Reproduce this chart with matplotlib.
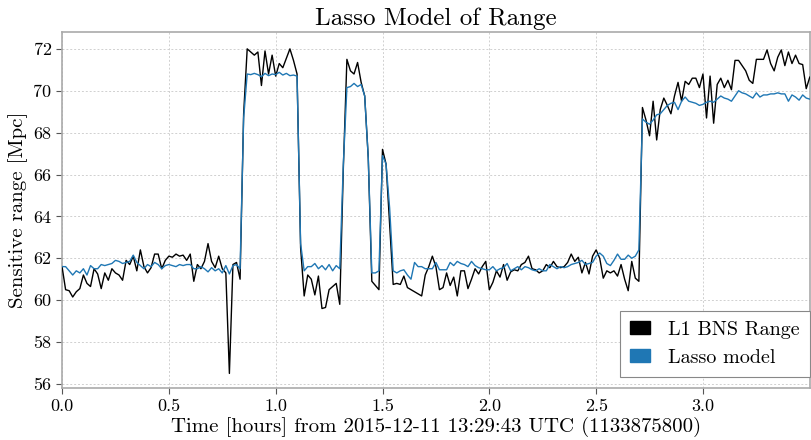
import numpy as np
import matplotlib
matplotlib.use("Agg")
import matplotlib.pyplot as plt
from matplotlib.patches import Patch

# ---- data (1-minute samples, time in hours) ----
range_l1 = (
    [61.6, 60.5, 60.45, 60.15, 60.4, 60.55, 61.2, 60.8, 60.65, 61.5, 61.25, 60.55, 61.3, 60.95, 61.5, 61.3, 61.2, 60.95,
     61.9, 61.7, 62.1, 61.4, 62.4, 61.6, 61.3, 61.55, 62.2, 62.2, 61.5, 61.9, 62.1, 62.05, 62.2, 62.1, 62.15, 61.9]
    + [62.2, 60.9, 61.7, 61.5, 61.85, 62.7, 61.85, 61.55, 62.1, 61.5, 61.3, 56.5, 61.7, 61.8, 61.0, 68.9, 72.0, 71.85,
       71.7, 71.85, 70.25, 71.9, 70.8, 71.7, 70.7, 71.3, 71.1, 71.55, 72.0, 71.45, 70.8, 62.5, 60.2, 61.2, 61.0]
    + [60.25, 61.15, 59.6, 59.65, 60.5, 60.65, 60.8, 59.8, 66.3, 71.5, 70.95, 70.8, 71.35, 70.4, 69.75, 66.8, 60.9,
       60.7, 60.5, 67.2, 66.5, 63.6, 60.75, 60.8, 60.75, 61.15, 60.6, 60.5, 60.4, 60.3, 60.2, 61.2, 61.6, 62.1]
    + [61.6, 60.5, 60.6, 61.3, 60.7, 61.1, 60.2, 61.4, 61.4, 60.55, 61.0, 61.5, 61.25, 61.6, 61.85, 60.5, 60.85, 61.4,
       61.1, 61.7, 60.95, 61.35, 61.45, 61.4, 61.7, 61.8, 62.1, 61.5, 61.45, 61.3, 61.4, 61.7, 61.55, 61.85, 61.6]
    + [61.55, 61.6, 61.8, 62.2, 61.85, 62.05, 61.3, 61.8, 61.25, 62.1, 62.4, 62.0, 61.05, 61.4, 61.3, 61.4, 61.15,
       61.7, 61.0, 60.45, 61.85, 61.05, 60.9]
    + [69.2, 68.6, 67.85, 69.5, 67.65, 69.1, 69.65, 69.3, 68.9, 69.75, 70.4, 69.5, 70.45, 70.3, 70.6, 70.6, 70.15,
       70.8, 68.7, 70.7, 68.45, 70.3, 70.6, 70.15, 70.5, 70.05, 71.45, 71.45, 71.2, 70.95, 70.5, 70.35, 71.5, 71.5,
       71.5, 71.95, 71.3, 70.95, 71.6, 71.95, 71.2, 71.85, 71.3, 71.7, 71.3, 71.25, 70.1, 70.65]
)

lasso_model = (
    [61.6, 61.6, 61.4, 61.2, 61.4, 61.3, 61.5, 61.2, 61.65, 61.5, 61.5, 61.7, 61.65, 61.7, 61.75, 61.9, 61.85, 61.75,
     61.8, 61.85, 62.15, 61.8, 61.65, 61.5, 61.7, 61.6, 61.8, 61.7, 61.5, 61.65, 61.7, 61.65, 61.6, 61.7, 61.65, 61.7]
    + [61.7, 61.5, 61.5, 61.6, 61.5, 61.35, 61.55, 61.4, 61.5, 61.3, 61.65, 61.25, 61.65, 61.7, 61.5, 68.7, 70.8,
       70.77, 70.83, 70.77, 70.67, 70.83, 70.72, 70.8, 70.77, 70.88, 70.75, 70.83, 70.72, 70.75, 70.7, 62.7, 61.4,
       61.6, 61.6]
    + [61.75, 61.5, 61.65, 61.45, 61.7, 61.4, 61.65, 61.5, 66.5, 70.15, 70.2, 70.35, 70.2, 70.3, 69.75, 66.8, 61.3,
       61.3, 61.4, 66.9, 66.5, 64.4, 61.4, 61.3, 61.4, 61.45, 61.2, 61.0, 61.8, 61.6, 61.6, 61.5, 61.5, 61.5]
    + [61.8, 61.45, 61.45, 61.45, 61.8, 61.65, 61.85, 61.75, 61.7, 61.6, 61.85, 61.65, 61.55, 61.5, 61.45, 61.45,
       61.6, 61.4, 61.5, 61.55, 61.75, 61.4, 61.5, 61.6, 61.45, 61.6, 61.55, 61.45, 61.4, 61.5, 61.4, 61.4, 61.7,
       61.6, 61.5]
    + [61.6, 61.55, 61.6, 61.7, 61.75, 61.8, 61.9, 61.7, 61.75, 61.8, 62.1, 62.25, 62.1, 61.75, 61.65, 61.9, 62.2,
       61.95, 61.95, 62.15, 62.0, 62.1, 62.4]
    + [68.65, 68.5, 68.4, 68.6, 68.85, 68.9, 69.1, 69.3, 69.4, 69.45, 69.1, 69.5, 69.7, 69.5, 69.45, 69.4, 69.3,
       69.35, 69.45, 69.5, 69.45, 69.6, 69.75, 69.65, 69.6, 69.5, 69.75, 70.0, 69.9, 69.85, 69.75, 69.65, 69.9, 69.7,
       69.8, 69.8, 69.85, 69.85, 69.9, 69.85, 69.85, 69.5, 69.8, 69.7, 69.55, 69.8, 69.65, 69.6]
)

sample_minutes = np.arange(len(range_l1))
time_hours = sample_minutes / 60.0

xticks = [0.0, 0.5, 1.0, 1.5, 2.0, 2.5, 3.0]
yticks = [56, 58, 60, 62, 64, 66, 68, 70, 72]

series_labels = ["L1 BNS Range", "Lasso model"]
series_colors = ["black", "#1f77b4"]

# ---- style ----
plt.rcParams["font.family"] = ["cmr10", "DejaVu Serif"]
plt.rcParams["mathtext.fontset"] = "cm"
plt.rcParams["axes.formatter.use_mathtext"] = True

fig = plt.figure(figsize=(8.11, 4.40), dpi=100)
ax = fig.add_axes([0.0765, 0.118, 0.922, 0.809])

ax.plot(time_hours, range_l1, color=series_colors[0], lw=1.0, zorder=3)
ax.plot(time_hours, lasso_model, color=series_colors[1], lw=1.0, zorder=4)

ax.set_xlim(0, 3.5)
ax.set_ylim(55.8, 72.8)
ax.set_xticks(xticks)
ax.set_xticklabels([f"{v:.1f}" for v in xticks])
ax.set_yticks(yticks)
ax.set_yticklabels([str(v) for v in yticks])
ax.tick_params(labelsize=13, length=4, width=0.8, color="#555555", direction="out")

ax.grid(True, color="#d0d0d0", linestyle=(0, (2, 2)), linewidth=0.7)
ax.set_axisbelow(True)
for sp in ax.spines.values():
    sp.set_color("#aaaaaa")
    sp.set_linewidth(1.2)

ax.set_title("Lasso Model of Range", fontsize=18, pad=5)
ax.set_xlabel("Time [hours] from 2015-12-11 13:29:43 UTC (1133875800)", fontsize=15, labelpad=2)
ax.set_ylabel("Sensitive range [Mpc]", fontsize=15, labelpad=4)

handles = [Patch(facecolor=c, edgecolor=c) for c in series_colors]
leg = ax.legend(handles, series_labels, loc="lower right", bbox_to_anchor=(1.0, 0.032),
                fontsize=14.5, fancybox=False, framealpha=1.0, edgecolor="#888888",
                borderaxespad=0.0, handlelength=1.0, handleheight=0.6, handletextpad=0.9,
                borderpad=0.5)
leg.get_frame().set_linewidth(0.8)

fig.savefig("out.png", dpi=100)
